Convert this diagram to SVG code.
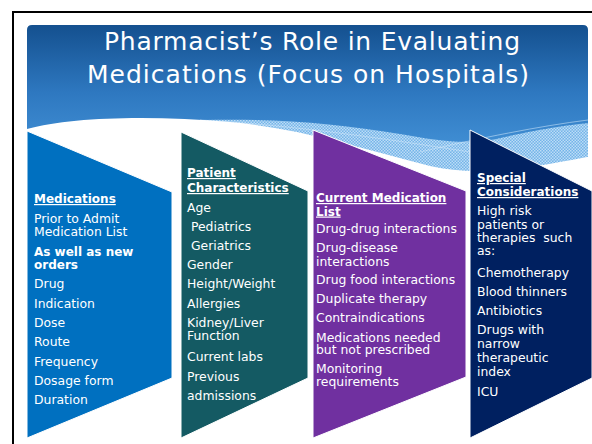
<svg xmlns="http://www.w3.org/2000/svg" width="592" height="444" viewBox="0 0 592 444">
  <defs>
    <linearGradient id="bannerGrad" x1="0" y1="25" x2="0" y2="175" gradientUnits="userSpaceOnUse">
      <stop offset="0" stop-color="#14508f"/>
      <stop offset="0.45" stop-color="#2e78c0"/>
      <stop offset="1" stop-color="#4a9ade"/>
    </linearGradient>
    <pattern id="dots" width="3" height="3" patternUnits="userSpaceOnUse">
      <rect width="3" height="3" fill="#74b4e8"/>
      <rect width="1.5" height="1.5" fill="#bcdcf6"/>
      <rect x="1.5" y="1.5" width="1.5" height="1.5" fill="#bcdcf6"/>
    </pattern>
    <style>
      .title { font-family: "DejaVu Sans", "Liberation Sans", sans-serif; font-size: 25px; fill: #ffffff; text-anchor: middle; }
      .t { font-family: "DejaVu Sans", "Liberation Sans", sans-serif; font-size: 12.4px; fill: #ffffff; white-space: pre; }
      .b { font-weight: bold; font-size: 12px; }
      .u { text-decoration: underline; }
      .shape { stroke: #ffffff; stroke-width: 1; }
    </style>
  </defs>

  <rect x="0" y="0" width="592" height="444" fill="#ffffff"/>

  <g id="banner">
    <path d="M27,30 Q27,25 32,25 L583,25 Q588,25 588,30 L588,200 L27,200 Z" fill="url(#bannerGrad)"/>
    <path d="M175,121 C260,117 330,122 400,134 C440,141 470,146 505,137 C545,128 570,125 588,123 L588,200 L175,200 Z" fill="url(#dots)"/>
    <path d="M200,120 C300,126 380,138 470,152" fill="none" stroke="#cfe6fa" stroke-width="0.8" opacity="0.7"/>
    <path d="M420,152 C480,138 540,126 588,120" fill="none" stroke="#cfe6fa" stroke-width="0.8" opacity="0.7"/>
    <path d="M27,129 C70,117 150,115 230,122 C300,128 360,148 430,166 C480,178 540,166 592,156 L592,444 L27,444 Z" fill="#ffffff"/>
  </g>

  <g id="title">
    <text class="title" x="312" y="50" textLength="416" lengthAdjust="spacing">Pharmacist’s Role in Evaluating</text>
    <text class="title" x="308" y="83" textLength="442" lengthAdjust="spacing">Medications (Focus on Hospitals)</text>
  </g>

  <g id="node-medications">
    <path class="shape" d="M27,131 L172,192 L172,378 L27,438 Z" fill="#0070c0"/>
    <text class="t b u" x="34" y="203">Medications</text>
    <text class="t" x="34" y="223">Prior to Admit</text>
    <text class="t" x="34" y="235.5">Medication List</text>
    <text class="t b" x="34" y="256">As well as new</text>
    <text class="t b" x="34" y="269">orders</text>
    <text class="t" x="34" y="288">Drug</text>
    <text class="t" x="34" y="308">Indication</text>
    <text class="t" x="34" y="327">Dose</text>
    <text class="t" x="34" y="346">Route</text>
    <text class="t" x="34" y="366">Frequency</text>
    <text class="t" x="34" y="385">Dosage form</text>
    <text class="t" x="34" y="404">Duration</text>
  </g>

  <g id="node-patient">
    <path class="shape" d="M181,132 L308,191 L308,378 L181,438 Z" fill="#145a63"/>
    <text class="t b u" x="187" y="177">Patient</text>
    <text class="t b u" x="187" y="192">Characteristics</text>
    <text class="t" x="187" y="212">Age</text>
    <text class="t" x="187" y="231"> Pediatrics</text>
    <text class="t" x="187" y="250"> Geriatrics</text>
    <text class="t" x="187" y="269">Gender</text>
    <text class="t" x="187" y="288">Height/Weight</text>
    <text class="t" x="187" y="308">Allergies</text>
    <text class="t" x="187" y="327">Kidney/Liver</text>
    <text class="t" x="187" y="340">Function</text>
    <text class="t" x="187" y="361">Current labs</text>
    <text class="t" x="187" y="381">Previous</text>
    <text class="t" x="187" y="400">admissions</text>
  </g>

  <g id="node-current">
    <path class="shape" d="M313,130 L466,191 L466,377 L313,438 Z" fill="#7030a0"/>
    <text class="t b u" x="316" y="202">Current Medication</text>
    <text class="t b u" x="316" y="215.5">List</text>
    <text class="t" x="316" y="233">Drug-drug interactions</text>
    <text class="t" x="316" y="252">Drug-disease</text>
    <text class="t" x="316" y="265.5">interactions</text>
    <text class="t" x="316" y="284">Drug food interactions</text>
    <text class="t" x="316" y="303">Duplicate therapy</text>
    <text class="t" x="316" y="322">Contraindications</text>
    <text class="t" x="316" y="341.5">Medications needed</text>
    <text class="t" x="316" y="354">but not prescribed</text>
    <text class="t" x="316" y="373">Monitoring</text>
    <text class="t" x="316" y="386">requirements</text>
  </g>

  <g id="node-special">
    <path class="shape" d="M470,130 L592,191 L592,378 L470,438 Z" fill="#002060"/>
    <text class="t b u" x="477" y="182">Special</text>
    <text class="t b u" x="477" y="196">Considerations</text>
    <text class="t" x="477" y="215">High risk</text>
    <text class="t" x="477" y="228.5">patients or</text>
    <text class="t" x="477" y="242">therapies  such</text>
    <text class="t" x="477" y="255">as:</text>
    <text class="t" x="477" y="277">Chemotherapy</text>
    <text class="t" x="477" y="296">Blood thinners</text>
    <text class="t" x="477" y="315">Antibiotics</text>
    <text class="t" x="477" y="333.5">Drugs with</text>
    <text class="t" x="477" y="347.5">narrow</text>
    <text class="t" x="477" y="362">therapeutic</text>
    <text class="t" x="477" y="376">index</text>
    <text class="t" x="477" y="396">ICU</text>
  </g>

  <g id="connectors"></g>

  <g id="frame">
    <path d="M13,446 L13,12 L594,12" fill="none" stroke="#000000" stroke-width="2"/>
  </g>
</svg>
